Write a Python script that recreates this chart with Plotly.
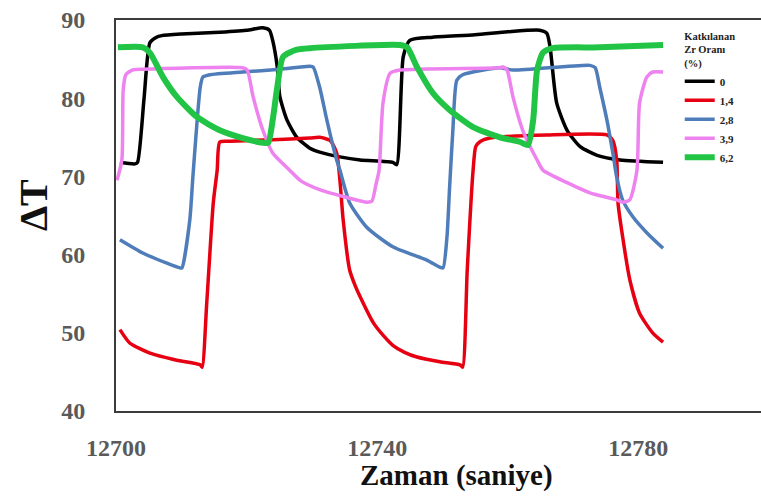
import plotly.graph_objects as go

# Katkılanan Zr oranına göre sıcaklık farkı (ΔT) - zaman ölçümleri
t_0 = [12700.6, 12702.9, 12703.3, 12704.3, 12705.2, 12706.2, 12707.0, 12710.0, 12715.0, 12720.0,
       12722.5, 12723.5, 12724.0, 12724.7, 12725.1, 12726.2, 12727.7, 12729.7, 12731.2, 12734.3,
       12737.4, 12742.4, 12743.0, 12744.0, 12745.0, 12748.5, 12755.0, 12760.0, 12764.9, 12766.0,
       12766.5, 12767.5, 12769.1, 12771.1, 12773.7, 12777.2, 12783.8]
dT_0 = [71.8, 71.6, 71.8, 80.0, 87.1, 87.8, 88.0, 88.2, 88.4, 88.7,
        89.0, 88.7, 87.4, 84.0, 80.2, 77.2, 75.0, 73.6, 73.1, 72.5,
        72.1, 71.8, 71.5, 85.3, 87.4, 87.8, 88.1, 88.5, 88.7, 88.3,
        86.5, 79.4, 75.9, 73.8, 72.7, 72.1, 71.8]

t_14 = [12700.6, 12702.1, 12705.2, 12709.3, 12712.9, 12713.2, 12713.9, 12714.9, 12715.5, 12715.9,
        12717.5, 12724.0, 12729.7, 12731.2, 12732.8, 12733.8, 12734.3, 12734.8, 12735.8, 12736.6,
        12737.4, 12739.4, 12741.0, 12742.4, 12744.2, 12746.1, 12749.6, 12752.7, 12753.1, 12753.8,
        12754.7, 12755.1, 12755.7, 12757.3, 12766.0, 12775.2, 12776.1, 12776.7, 12776.9, 12777.6,
        12778.7, 12780.2, 12782.2, 12783.8]
dT_14 = [50.4, 48.7, 47.4, 46.5, 45.9, 45.6, 53.8, 66.6, 70.8, 74.4,
         74.5, 74.7, 74.9, 75.0, 74.6, 73.0, 69.5, 64.4, 58.0, 56.1,
         54.6, 51.3, 49.6, 48.4, 47.5, 46.9, 46.3, 45.9, 45.6, 58.0,
         70.8, 73.8, 74.4, 74.9, 75.3, 75.3, 74.6, 72.1, 66.6, 62.3,
         56.8, 52.5, 50.0, 48.8]

t_28 = [12700.6, 12704.1, 12707.8, 12709.8, 12710.1, 12711.3, 12711.8, 12712.9, 12713.3, 12714.4,
        12719.4, 12725.1, 12729.7, 12730.2, 12731.2, 12732.3, 12733.8, 12734.3, 12735.8, 12738.4,
        12742.4, 12747.6, 12749.6, 12750.1, 12750.7, 12751.1, 12751.6, 12752.2, 12753.1, 12758.8,
        12760.8, 12772.6, 12773.4, 12774.1, 12775.2, 12776.1, 12776.7, 12777.6, 12779.2, 12781.3,
        12783.8]
dT_28 = [61.9, 60.2, 58.9, 58.3, 58.3, 64.4, 70.2, 81.4, 82.7, 83.0,
         83.35, 83.7, 84.1, 84.0, 81.4, 77.2, 72.1, 70.8, 66.6, 63.5,
         61.0, 59.3, 58.4, 58.3, 62.3, 68.6, 75.9, 82.3, 83.0, 83.9,
         83.6, 84.2, 83.9, 81.4, 77.2, 73.0, 69.9, 67.0, 64.8, 62.8,
         60.8]

t_39 = [12700.15, 12700.9, 12701.1, 12701.5, 12702.5, 12704.1, 12719.4, 12720.1, 12721.0, 12722.5,
        12724.0, 12726.6, 12728.2, 12731.2, 12735.8, 12738.4, 12739.2, 12739.8, 12740.3, 12740.9,
        12742.0, 12743.5, 12758.8, 12759.3, 12759.9, 12760.8, 12762.3, 12764.5, 12765.4, 12769.1,
        12772.6, 12776.7, 12777.6, 12778.7, 12779.8, 12780.2, 12781.3, 12782.2, 12783.8]
dT_39 = [69.5, 72.1, 81.0, 83.0, 83.6, 83.7, 83.9, 83.6, 80.2, 75.9,
         73.0, 70.8, 69.5, 68.3, 67.2, 66.7, 66.85, 68.9, 70.8, 79.4,
         83.2, 83.6, 83.9, 84.0, 83.6, 80.2, 75.9, 72.1, 70.8, 69.2,
         67.9, 67.0, 66.7, 67.0, 70.8, 79.4, 82.7, 83.35, 83.35]

t_62 = [12700.3, 12704.1, 12705.2, 12707.2, 12709.3, 12712.4, 12715.9, 12719.4, 12722.5, 12723.3,
        12724.0, 12724.7, 12725.6, 12727.7, 12729.7, 12743.5, 12744.6, 12746.1, 12748.5, 12751.1,
        12754.7, 12758.8, 12761.9, 12763.1, 12763.9, 12764.5, 12765.4, 12766.9, 12774.1, 12783.8]
dT_62 = [86.5, 86.5, 85.8, 82.7, 80.2, 77.6, 75.9, 74.9, 74.3, 74.3,
         77.2, 81.4, 85.3, 86.2, 86.4, 86.8, 86.5, 84.0, 80.7, 78.5,
         76.3, 75.0, 74.4, 74.0, 77.2, 83.6, 85.8, 86.4, 86.5, 86.8]

series_names = ["0", "1,4", "2,8", "3,9", "6,2"]
series_t = [t_0, t_14, t_28, t_39, t_62]
series_dT = [dT_0, dT_14, dT_28, dT_39, dT_62]
colors = ["#000000", "#E60012", "#4F7DB9", "#EE82EE", "#22C445"]
widths = [3.5, 3.5, 3.5, 3.5, 6]

x_ticks = [12700, 12740, 12780]
y_ticks = [40, 50, 60, 70, 80, 90]

serif = "Liberation Serif, Times New Roman, serif"

fig = go.Figure()
for name, tx, ty, c, w in zip(series_names, series_t, series_dT, colors, widths):
    fig.add_trace(go.Scatter(
        x=tx, y=ty, name=name, mode="lines",
        line=dict(color=c, width=w, shape="spline", smoothing=0.6),
    ))

axis_line = "#3c3c3c"
fig.update_layout(
    width=761, height=502,
    margin=dict(l=116, r=0, t=20, b=91),
    paper_bgcolor="white", plot_bgcolor="white",
    showlegend=True,
    legend=dict(
        x=0.874, y=0.985, xanchor="left", yanchor="top",
        bgcolor="rgba(0,0,0,0)",
        font=dict(family=serif, size=11, color="#222", weight="bold"),
        title=dict(text="Katkılanan<br>Zr Oranı<br>(%)", side="top center",
                   font=dict(family=serif, size=10.5, color="#222", weight="bold")),
        itemwidth=30, tracegroupgap=0,
    ),
    xaxis=dict(
        range=[12700, 12798.8], tickvals=x_ticks, ticktext=[str(v) for v in x_ticks],
        showgrid=False, zeroline=False, showline=True, linecolor=axis_line, linewidth=2,
        mirror=True, ticks="", ticklabelstandoff=14,
        tickfont=dict(family=serif, size=24, color="#5a5a5a", weight="bold"),
    ),
    yaxis=dict(
        range=[40, 90], tickvals=y_ticks, ticktext=[str(v) for v in y_ticks],
        showgrid=False, zeroline=False, showline=True, linecolor=axis_line, linewidth=2,
        mirror=False, ticks="", ticklabelstandoff=24,
        tickfont=dict(family=serif, size=24, color="#5a5a5a", weight="bold"),
    ),
    annotations=[
        dict(text="Zaman (saniye)", xref="paper", yref="paper",
             x=(456 - 116) / 645, y=-(475 - 411) / 391, xanchor="center", yanchor="middle",
             showarrow=False, font=dict(family=serif, size=29, color="#111", weight="bold")),
        dict(text="ΔT", xref="paper", yref="paper", textangle=-90,
             x=-(116 - 33) / 645, y=(411 - 205) / 391, xanchor="center", yanchor="middle",
             showarrow=False, font=dict(family=serif, size=40, color="#111", weight="bold")),
    ],
)

fig.write_html("out.html")
